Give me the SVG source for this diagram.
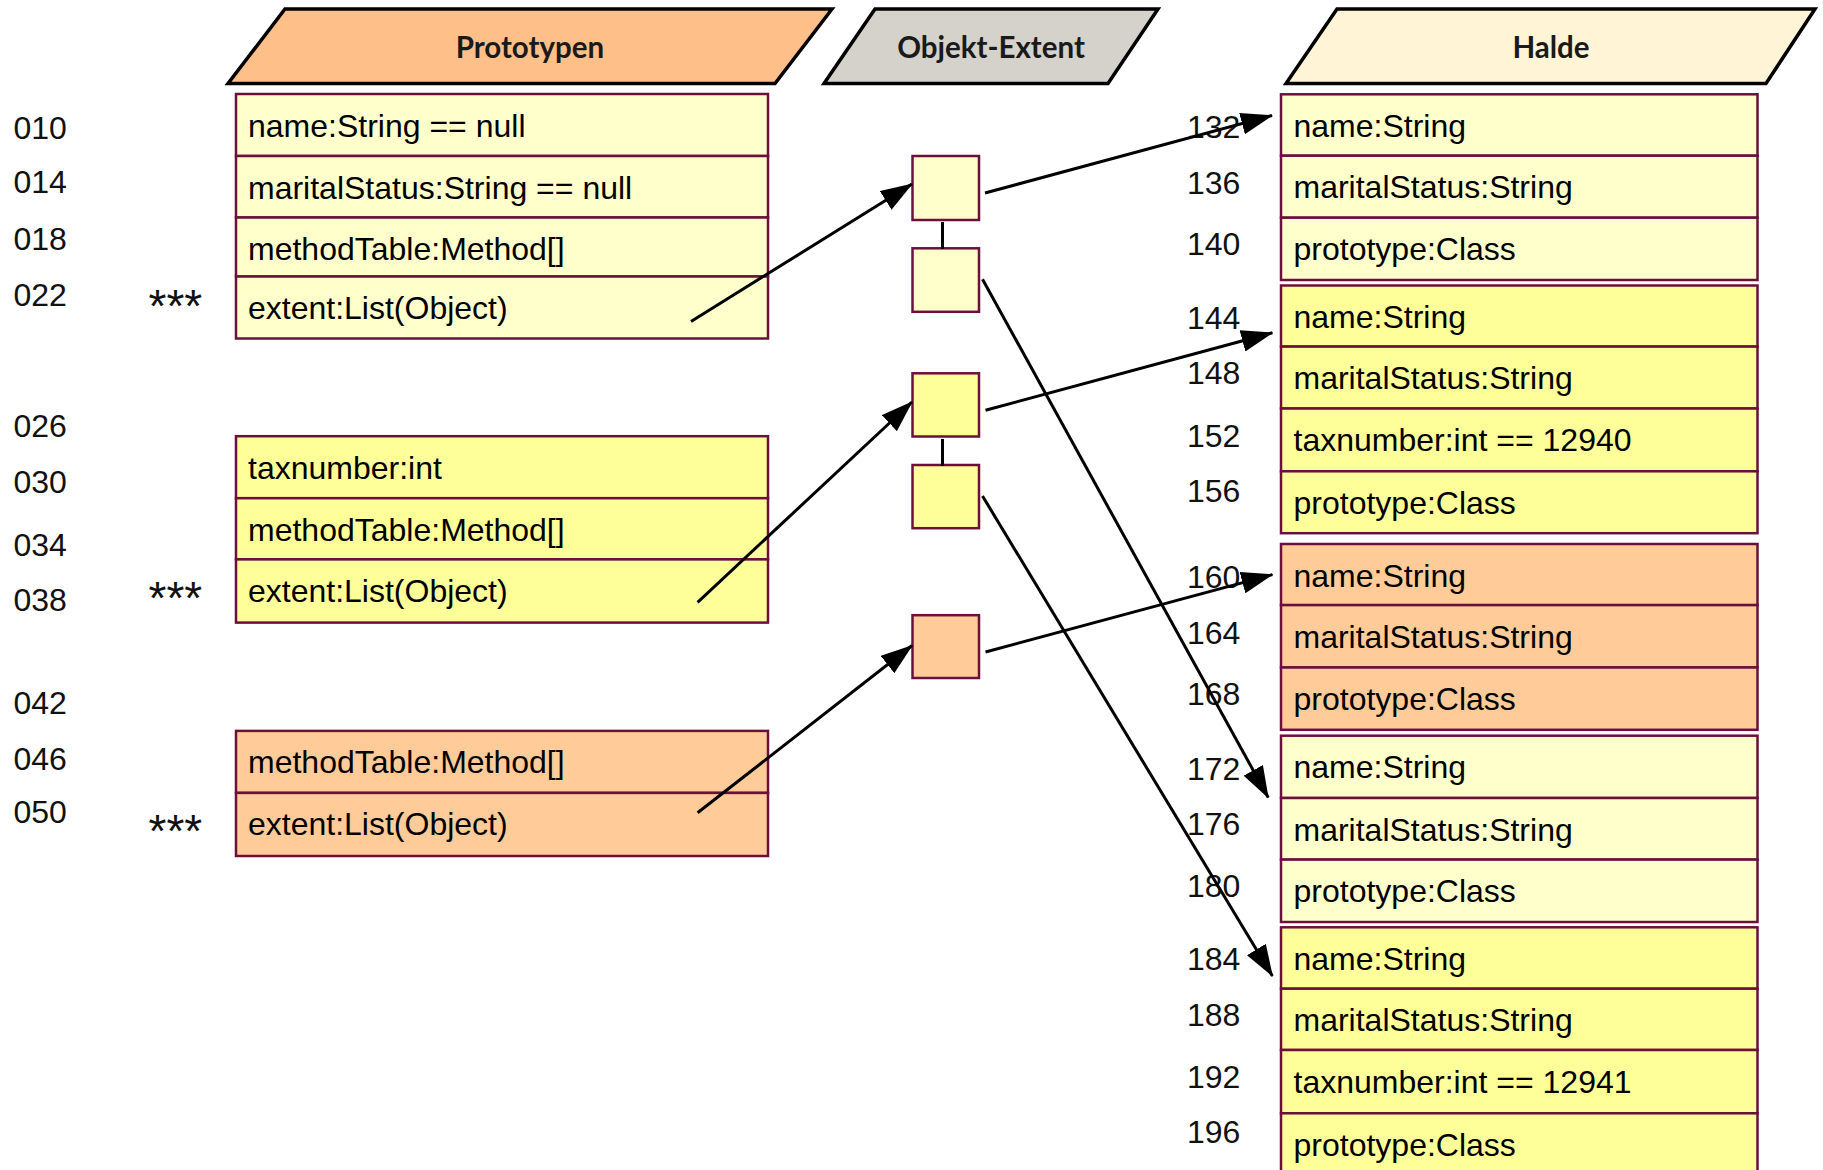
<svg xmlns="http://www.w3.org/2000/svg" width="1823" height="1170" viewBox="0 0 1823 1170">
<defs>
<style>
.hdr{stroke:#000;stroke-width:3.5;stroke-linejoin:miter}
.ht{font-family:Lato,"Open Sans",sans-serif;font-weight:700;font-size:29.5px;fill:#1a1a1a;text-anchor:middle}
.r{stroke:#6b0f3c;stroke-width:2.5}
.l{fill:#FFFFCC}.y{fill:#FFFF99}.o{fill:#FFCC99}
.t{font-family:"Liberation Sans",Arial,sans-serif;font-size:32px;fill:#000}
.n{font-family:"Liberation Sans",Arial,sans-serif;font-size:32px;fill:#111}
.ast{font-family:"Liberation Sans",Arial,sans-serif;font-size:46px;fill:#111}
.c{stroke:#000;stroke-width:3;fill:none}
.k{stroke:#000;stroke-width:3}
</style>
<marker id="ah" viewBox="0 0 32 22" refX="31" refY="11" markerWidth="32" markerHeight="22" markerUnits="userSpaceOnUse" orient="auto"><path d="M0,0 L32,11 L0,22 z" fill="#000"/></marker>
</defs>
<rect width="1823" height="1170" fill="#fff"/>

<g id="header-prototypen"><polygon class="hdr" fill="#FFBF88" points="285,9 832,9 775,83.5 228,83.5"/><text class="ht" x="530" y="58">Prototypen</text></g>
<g id="header-objekt-extent"><polygon class="hdr" fill="#D4D2CA" points="875,9 1158,9 1108,83.5 824,83.5"/><text class="ht" x="991" y="58">Objekt-Extent</text></g>
<g id="header-halde"><polygon class="hdr" fill="#FFF5D6" points="1337,9 1815,9 1766,83.5 1286,83.5"/><text class="ht" x="1551" y="58">Halde</text></g>

<g id="addresses-left" class="n">
<text x="13.5" y="138.5">010</text>
<text x="13.5" y="193.3">014</text>
<text x="13.5" y="250">018</text>
<text x="13.5" y="306">022</text>
<text x="13.5" y="437">026</text>
<text x="13.5" y="492.5">030</text>
<text x="13.5" y="555.6">034</text>
<text x="13.5" y="611">038</text>
<text x="13.5" y="713.6">042</text>
<text x="13.5" y="769.8">046</text>
<text x="13.5" y="822.7">050</text>
</g>
<g id="markers" class="ast">
<text x="148.5" y="322">***</text>
<text x="148.5" y="614">***</text>
<text x="148.5" y="847">***</text>
</g>

<g id="proto-1">
<rect class="r l" x="236" y="94" width="532" height="62"/>
<rect class="r l" x="236" y="156" width="532" height="61.5"/>
<rect class="r l" x="236" y="217.5" width="532" height="59"/>
<rect class="r l" x="236" y="276.5" width="532" height="62"/>
<text class="t" x="248" y="136.5">name:String == null</text>
<text class="t" x="248" y="198.5">maritalStatus:String == null</text>
<text class="t" x="248" y="260">methodTable:Method[]</text>
<text class="t" x="248" y="319">extent:List(Object)</text>
</g>
<g id="proto-2">
<rect class="r y" x="236" y="436.2" width="532" height="62"/>
<rect class="r y" x="236" y="498.2" width="532" height="61.2"/>
<rect class="r y" x="236" y="559.4" width="532" height="63.2"/>
<text class="t" x="248" y="478.7">taxnumber:int</text>
<text class="t" x="248" y="540.7">methodTable:Method[]</text>
<text class="t" x="248" y="601.9">extent:List(Object)</text>
</g>
<g id="proto-3">
<rect class="r o" x="236" y="730.9" width="532" height="62"/>
<rect class="r o" x="236" y="792.9" width="532" height="63.1"/>
<text class="t" x="248" y="773.4">methodTable:Method[]</text>
<text class="t" x="248" y="835.4">extent:List(Object)</text>
</g>

<g id="extent-1"><rect class="r l" x="912.5" y="156" width="66.5" height="64"/></g>
<g id="extent-2"><rect class="r l" x="912.5" y="248.3" width="66.5" height="63.5"/></g>
<g id="extent-3"><rect class="r y" x="912.5" y="373.3" width="66.5" height="63.2"/></g>
<g id="extent-4"><rect class="r y" x="912.5" y="465" width="66.5" height="63.2"/></g>
<g id="extent-5"><rect class="r o" x="912.5" y="615.2" width="66.5" height="62.8"/></g>

<g id="addresses-right" class="n">
<text x="1187" y="138">132</text>
<text x="1187" y="193.5">136</text>
<text x="1187" y="255.3">140</text>
<text x="1187" y="329">144</text>
<text x="1187" y="384.3">148</text>
<text x="1187" y="446.6">152</text>
<text x="1187" y="501.5">156</text>
<text x="1187" y="588">160</text>
<text x="1187" y="643.6">164</text>
<text x="1187" y="704.7">168</text>
<text x="1187" y="780">172</text>
<text x="1187" y="835.3">176</text>
<text x="1187" y="897">180</text>
<text x="1187" y="970">184</text>
<text x="1187" y="1025.8">188</text>
<text x="1187" y="1087.6">192</text>
<text x="1187" y="1143">196</text>
</g>

<g id="halde-1">
<rect class="r l" x="1281" y="94.3" width="476.5" height="61.4"/>
<rect class="r l" x="1281" y="155.7" width="476.5" height="62"/>
<rect class="r l" x="1281" y="217.7" width="476.5" height="62.3"/>
<text class="t" x="1293.5" y="136.8">name:String</text>
<text class="t" x="1293.5" y="198.2">maritalStatus:String</text>
<text class="t" x="1293.5" y="260.2">prototype:Class</text>
</g>
<g id="halde-2">
<rect class="r y" x="1281" y="285.5" width="476.5" height="61.1"/>
<rect class="r y" x="1281" y="346.6" width="476.5" height="61.9"/>
<rect class="r y" x="1281" y="408.5" width="476.5" height="62.8"/>
<rect class="r y" x="1281" y="471.3" width="476.5" height="61.9"/>
<text class="t" x="1293.5" y="328">name:String</text>
<text class="t" x="1293.5" y="389.1">maritalStatus:String</text>
<text class="t" x="1293.5" y="451">taxnumber:int == 12940</text>
<text class="t" x="1293.5" y="513.8">prototype:Class</text>
</g>
<g id="halde-3">
<rect class="r o" x="1281" y="544" width="476.5" height="61.1"/>
<rect class="r o" x="1281" y="605.1" width="476.5" height="62.4"/>
<rect class="r o" x="1281" y="667.5" width="476.5" height="62.3"/>
<text class="t" x="1293.5" y="586.5">name:String</text>
<text class="t" x="1293.5" y="647.6">maritalStatus:String</text>
<text class="t" x="1293.5" y="710">prototype:Class</text>
</g>
<g id="halde-4">
<rect class="r l" x="1281" y="735.7" width="476.5" height="62.3"/>
<rect class="r l" x="1281" y="798" width="476.5" height="61.6"/>
<rect class="r l" x="1281" y="859.6" width="476.5" height="62.4"/>
<text class="t" x="1293.5" y="778.2">name:String</text>
<text class="t" x="1293.5" y="840.5">maritalStatus:String</text>
<text class="t" x="1293.5" y="902.1">prototype:Class</text>
</g>
<g id="halde-5">
<rect class="r y" x="1281" y="927.3" width="476.5" height="61.4"/>
<rect class="r y" x="1281" y="988.7" width="476.5" height="61.3"/>
<rect class="r y" x="1281" y="1050" width="476.5" height="63.3"/>
<rect class="r y" x="1281" y="1113.3" width="476.5" height="62"/>
<text class="t" x="1293.5" y="969.8">name:String</text>
<text class="t" x="1293.5" y="1031.2">maritalStatus:String</text>
<text class="t" x="1293.5" y="1092.5">taxnumber:int == 12941</text>
<text class="t" x="1293.5" y="1155.8">prototype:Class</text>
</g>

<g id="connectors">
<line class="k" x1="942.5" y1="222" x2="942.5" y2="249"/>
<line class="k" x1="942.5" y1="439" x2="942.5" y2="466"/>
<line class="c" x1="691" y1="321.5" x2="912" y2="184" marker-end="url(#ah)"/>
<line class="c" x1="697.6" y1="602.3" x2="912" y2="402" marker-end="url(#ah)"/>
<line class="c" x1="697.6" y1="812.8" x2="912" y2="645.5" marker-end="url(#ah)"/>
<line class="c" x1="985" y1="193" x2="1272" y2="115.5" marker-end="url(#ah)"/>
<line class="c" x1="985.5" y1="410.2" x2="1272.4" y2="332.8" marker-end="url(#ah)"/>
<line class="c" x1="985.5" y1="652" x2="1272.4" y2="574.6" marker-end="url(#ah)"/>
<line class="c" x1="982.5" y1="279.2" x2="1268.2" y2="797.5" marker-end="url(#ah)"/>
<line class="c" x1="982.5" y1="496" x2="1272.4" y2="976" marker-end="url(#ah)"/>
</g>
</svg>
